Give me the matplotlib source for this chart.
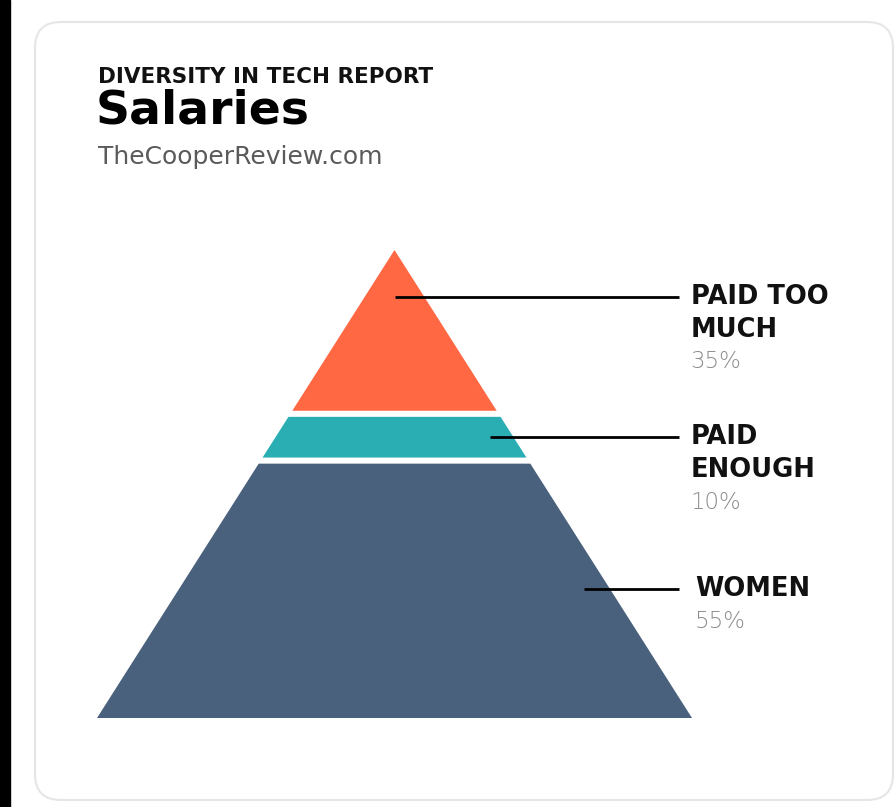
import matplotlib.pyplot as plt
from matplotlib.patches import Polygon, FancyBboxPatch, Rectangle

labels = [['PAID TOO', 'MUCH'], ['PAID', 'ENOUGH'], ['WOMEN']]
values = [35, 10, 55]
colors = ['#FF6843', '#2AAEB3', '#4A617D']
# depth (0 = apex) where each leader line meets its layer; None = middle of layer
leader_depth = [10, None, None]
# where the leader starts, as a fraction of the layer half-width
leader_start = [0, 0.8, 0.88]

W, H = 896, 807
fig = plt.figure(figsize=(W / 100, H / 100), dpi=100)
fig.patch.set_facecolor('white')

# background layer in pixel coordinates
bg = fig.add_axes([0, 0, 1, 1])
bg.set_xlim(0, W)
bg.set_ylim(H, 0)
bg.axis('off')
bg.add_patch(Rectangle((0, 0), 10, H, color='black'))
bg.add_patch(FancyBboxPatch((35, 22), 858, 778, boxstyle='round,pad=0,rounding_size=26',
                            facecolor='white', edgecolor='#e6e6e6', linewidth=1.5))

bg.text(98, 77, 'DIVERSITY IN TECH REPORT', fontsize=15.5, fontweight='bold',
        family='DejaVu Sans', va='center', ha='left', color='#111111')
bg.text(96, 111, 'Salaries', fontsize=34, fontweight='bold',
        family='DejaVu Sans', va='center', ha='left', color='#000000')
bg.text(98, 157, 'TheCooperReview.com', fontsize=18, fontweight='normal',
        family='DejaVu Sans', va='center', ha='left', color='#5a5a5a')

# pyramid axes: x = half-width, y = depth in percent from the apex
ax = fig.add_axes([97 / W, (H - 718) / H, 595 / W, 468 / H])
ax.set_xlim(-1, 1)
ax.set_ylim(100, 0)
ax.axis('off')

px = 100 / 468  # one pixel in depth units
gap = 0.65
top = 0
for i, (lab, v, c) in enumerate(zip(labels, values, colors)):
    d0 = top + (gap if i > 0 else 0)
    d1 = top + v - (gap if i < len(values) - 1 else 0)
    ax.add_patch(Polygon([(-d0 / 100, d0), (d0 / 100, d0), (d1 / 100, d1), (-d1 / 100, d1)],
                         closed=True, facecolor=c, edgecolor='none'))

    yl = leader_depth[i] if leader_depth[i] is not None else top + v / 2
    x_start = leader_start[i] * yl / 100
    ax.plot([x_start, 0.955], [yl, yl], color='black', linewidth=2, clip_on=False,
            solid_capstyle='butt')

    tx = 0.995 if i < 2 else 1.01
    y = yl
    for line in lab:
        ax.text(tx, y, line, fontsize=18.5, fontweight='bold', family='DejaVu Sans',
                ha='left', va='center', color='#111111', clip_on=False)
        y += 33 * px
    ax.text(tx, y - 1 * px, f'{v}%', fontsize=16.5, fontweight='light', family='DejaVu Sans',
            ha='left', va='center', color='#8a8a8a', clip_on=False)
    top += v

fig.savefig('out.png', dpi=100)
